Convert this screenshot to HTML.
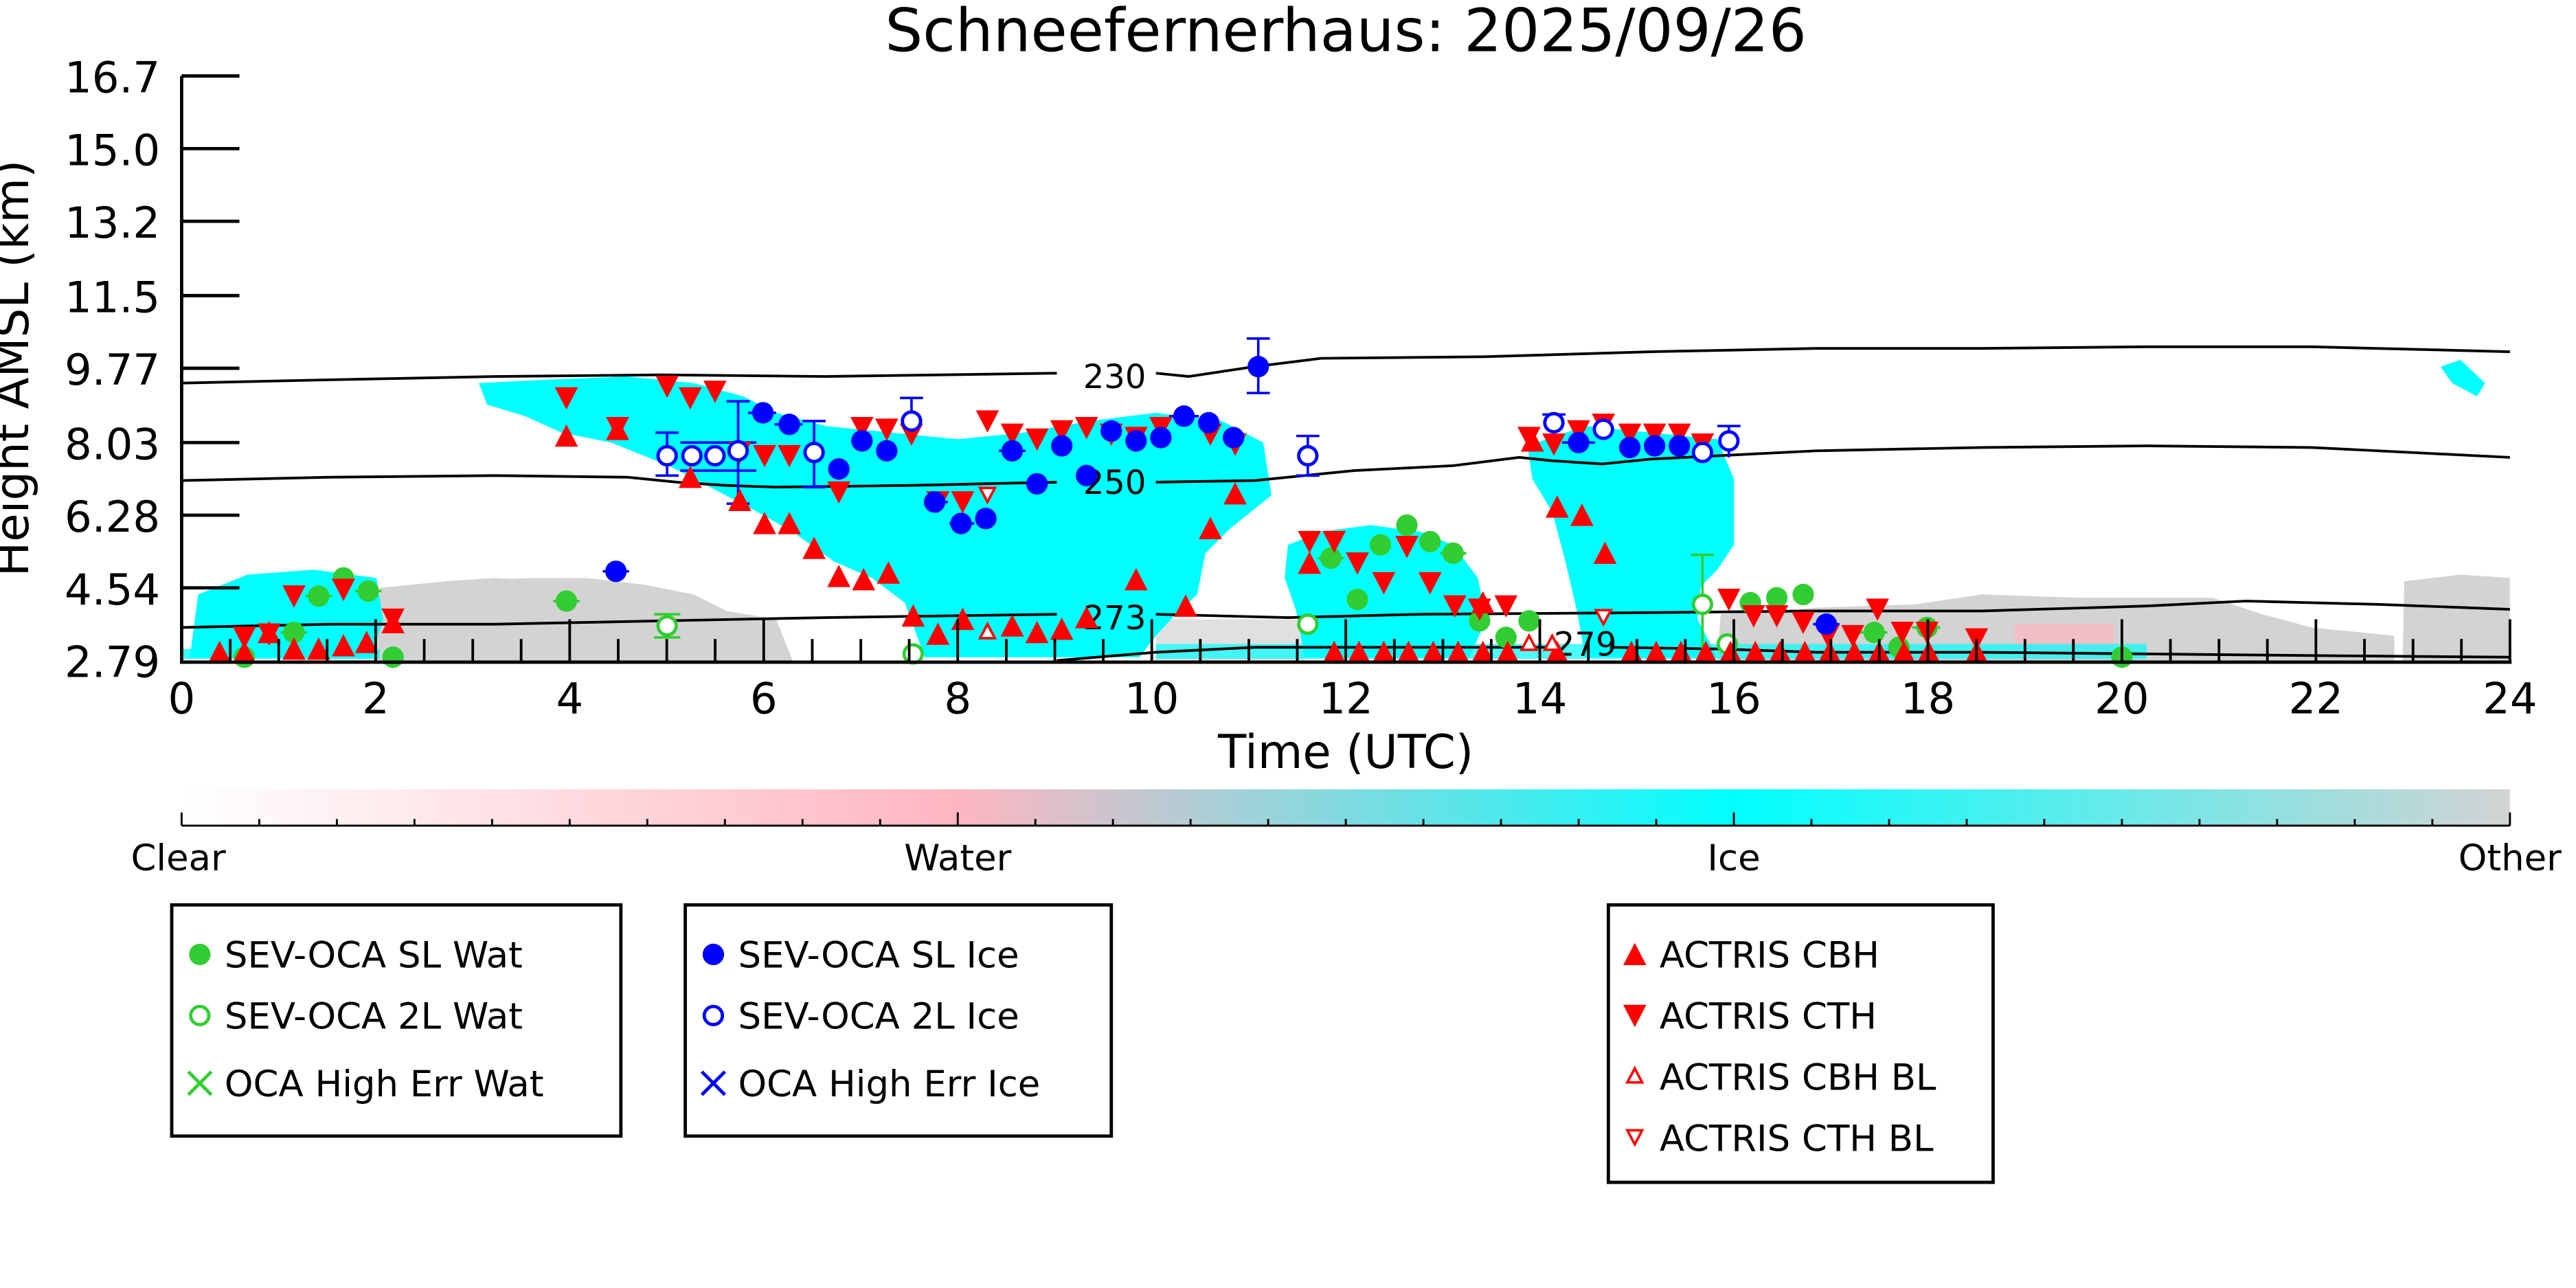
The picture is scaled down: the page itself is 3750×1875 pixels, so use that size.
<!DOCTYPE html>
<html><head><meta charset="utf-8"><style>
html,body{margin:0;padding:0;background:#fff;}
svg{display:block;}
text{font-family:"DejaVu Sans","Liberation Sans",sans-serif;fill:#000;}
</style></head><body>
<svg width="3750" height="1875" viewBox="0 0 1560 780" xmlns="http://www.w3.org/2000/svg">
<defs>
<linearGradient id="cb" x1="0" x2="1" y1="0" y2="0">
<stop offset="0" stop-color="#ffffff"/>
<stop offset="0.333" stop-color="#ffb6c1"/>
<stop offset="0.667" stop-color="#00ffff"/>
<stop offset="1" stop-color="#d3d3d3"/>
</linearGradient>
<symbol id="gf" overflow="visible"><circle r="6.5" fill="#32cd32"/></symbol>
<symbol id="go" overflow="visible"><circle r="5.5" fill="#fff" stroke="#32cd32" stroke-width="2"/></symbol>
<symbol id="bf" overflow="visible"><circle r="6.5" fill="#0000ff"/></symbol>
<symbol id="bo" overflow="visible"><circle r="5.5" fill="#fff" stroke="#0000ff" stroke-width="2"/></symbol>
<symbol id="ru" overflow="visible"><polygon points="0,-8 7,5.5 -7,5.5" fill="#ff0000"/></symbol>
<symbol id="rd" overflow="visible"><polygon points="0,8 7,-5.5 -7,-5.5" fill="#ff0000"/></symbol>
<symbol id="rou" overflow="visible"><polygon points="0,-5 4.5,3.5 -4.5,3.5" fill="#fff" stroke="#ff0000" stroke-width="1.5"/></symbol>
<symbol id="rod" overflow="visible"><polygon points="0,5 4.5,-3.5 -4.5,-3.5" fill="#fff" stroke="#ff0000" stroke-width="1.5"/></symbol>
<clipPath id="pc"><rect x="110" y="46" width="1410" height="354"/></clipPath>
</defs>

<text x="815" y="31" font-size="36" text-anchor="middle">Schneefernerhaus: 2025/09/26</text>

<g clip-path="url(#pc)">
<g fill="#d3d3d3">
<polygon points="228,400 230,356 270,352 300,350 330,352 345,360 350,400"/>
<polygon points="288,400 290,352 320,350 355,350 390,354 420,360 440,370 470,375 480,400"/>
<rect x="180" y="360" width="50" height="40" opacity="0.6"/>
<polygon points="1040,400 1042,372 1100,368 1160,366 1200,360 1260,362 1300,362 1340,362 1370,372 1400,380 1450,385 1450,400"/>
<polygon points="1455,400 1456,352 1490,348 1520,350 1520,400"/>
<rect x="700" y="375" width="90" height="25" opacity="0.7"/>
</g>
<g fill="#ffb6c1" opacity="0.7">
<rect x="1220" y="378" width="60" height="20"/>
<rect x="130" y="370" width="20" height="25"/>
</g>
<g fill="#00ffff">
<polygon points="290,232 330,230 380,228 420,232 450,240 470,250 500,258 540,262 580,266 620,262 660,255 700,250 740,255 765,268 770,300 745,320 730,335 725,360 712,372 700,385 690,398 560,398 548,365 528,350 505,340 480,322 455,308 430,295 405,282 370,268 340,262 318,252 295,245"/>
<polygon points="780,330 800,322 830,318 860,322 880,330 895,350 900,375 890,398 790,398 785,370 778,350"/>
<polygon points="925,270 960,258 1000,262 1040,266 1050,290 1050,330 1040,345 1030,355 1028,375 1040,398 960,398 955,370 948,340 940,310 928,290"/>
<polygon points="115,398 120,360 150,348 190,345 228,350 232,375 225,398"/>
<polygon points="1478,222 1490,218 1505,232 1500,240 1485,232"/>
<rect x="700" y="390" width="600" height="9" opacity="0.7"/>
<rect x="110" y="393" width="120" height="6" opacity="0.8"/>
</g>
</g>

<g fill="none" stroke="#000" stroke-width="1.6">
<polyline points="110,232 200,230 300,228 400,227 500,228 640,226"/>
<polyline points="700,226 720,228 760,222 800,217 900,216 1000,213 1100,211 1200,211 1300,210 1400,210 1520,213"/>
<polyline points="110,291 200,289 300,288 380,289 410,292 440,294 470,295 550,294 640,292"/>
<polyline points="700,292 760,291 820,285 880,282 920,277 940,279 970,281 1000,278 1100,273 1200,271 1300,270 1400,271 1520,277"/>
<polyline points="110,380 200,378 300,378 400,376 500,374 640,372"/>
<polyline points="700,372 780,374 860,372 1000,371 1100,370 1200,370 1300,367 1360,364 1440,366 1520,369"/>
<polyline points="640,400 700,395 760,392 860,392 945,392"/>
<polyline points="975,392 1040,393 1100,395 1200,395 1300,396 1400,397 1520,398"/>
</g>
<g font-size="20">
<text x="675" y="235" text-anchor="middle">230</text>
<text x="675" y="299" text-anchor="middle">250</text>
<text x="675" y="381" text-anchor="middle">273</text>
<text x="960" y="397" text-anchor="middle">279</text>
</g>

<g stroke="#0000ff" stroke-width="1.5" fill="none">
<path d="M762,205 V238 M755,205 H769 M755,238 H769"/>
<path d="M447,243 V305 M440,243 H454 M440,305 H454"/>
<path d="M404,262 V288 M397,262 H411 M397,288 H411"/>
<path d="M552,241 V268 M545,241 H559"/>
<path d="M493,255 V295 M486,295 H500 M486,255 H500"/>
<path d="M792,264 V288 M785,264 H799 M785,288 H799"/>
<path d="M1047,258 V277 M1040,258 H1054"/>
<path d="M941,251 V262 M934,251 H948"/>
<path d="M412,268 H458 M412,285 H458"/>
<path d="M365,346 H381 M453,250 H470 M469,257 H486 M560,304 H574 M575,317 H590 M605,273 H621 M708,252 H726 M946,268 H966 M1098,378 H1114"/>
</g>
<g stroke="#32cd32" stroke-width="1.5" fill="none">
<path d="M1031,336 V398 M1024,336 H1038"/>
<path d="M396,372 H412 M396,386 H412"/>
<path d="M335,364 H351 M170,383 H186 M185,361 H201 M215,358 H231 M798,338 H814 M872,335 H888 M1125,383 H1143 M1158,380 H1175"/>
</g>

<g>
<use href="#gf" x="148" y="398"/><use href="#gf" x="178" y="383"/><use href="#gf" x="193" y="361"/><use href="#gf" x="208" y="350"/><use href="#gf" x="223" y="358"/><use href="#gf" x="238" y="398"/><use href="#gf" x="343" y="364"/>
<use href="#gf" x="806" y="338"/><use href="#gf" x="822" y="363"/><use href="#gf" x="836" y="330"/><use href="#gf" x="852" y="318"/><use href="#gf" x="866" y="328"/><use href="#gf" x="880" y="335"/><use href="#gf" x="896" y="376"/><use href="#gf" x="912" y="386"/><use href="#gf" x="926" y="376"/><use href="#gf" x="1060" y="365"/><use href="#gf" x="1076" y="362"/><use href="#gf" x="1092" y="360"/><use href="#gf" x="1135" y="383"/><use href="#gf" x="1150" y="392"/><use href="#gf" x="1167" y="380"/><use href="#gf" x="1285" y="398"/>
<use href="#go" x="404" y="379"/><use href="#go" x="792" y="378"/><use href="#go" x="1031" y="366"/><use href="#go" x="553" y="396"/><use href="#go" x="1046" y="390"/>

<use href="#ru" x="343" y="265"/><use href="#ru" x="374" y="261"/><use href="#ru" x="418" y="290"/><use href="#ru" x="448" y="304"/><use href="#ru" x="463" y="318"/><use href="#ru" x="478" y="318"/><use href="#ru" x="493" y="333"/><use href="#ru" x="508" y="350"/><use href="#ru" x="523" y="352"/><use href="#ru" x="538" y="348"/><use href="#ru" x="553" y="374"/><use href="#ru" x="568" y="385"/><use href="#ru" x="583" y="376"/><use href="#ru" x="613" y="380"/><use href="#ru" x="628" y="384"/><use href="#ru" x="643" y="382"/><use href="#ru" x="658" y="375"/><use href="#ru" x="688" y="352"/><use href="#ru" x="718" y="368"/><use href="#ru" x="733" y="321"/><use href="#ru" x="748" y="300"/><use href="#ru" x="793" y="342"/><use href="#ru" x="898" y="366"/><use href="#ru" x="928" y="268"/><use href="#ru" x="943" y="308"/><use href="#ru" x="958" y="313"/><use href="#ru" x="972" y="336"/>
<use href="#ru" x="133" y="396"/><use href="#ru" x="163" y="384"/><use href="#ru" x="178" y="394"/><use href="#ru" x="193" y="394"/><use href="#ru" x="208" y="392"/><use href="#ru" x="222" y="390"/><use href="#ru" x="238" y="378"/><use href="#ru" x="148" y="396"/>
<use href="#ru" x="808" y="396"/><use href="#ru" x="823" y="396"/><use href="#ru" x="838" y="396"/><use href="#ru" x="853" y="396"/><use href="#ru" x="868" y="396"/><use href="#ru" x="883" y="396"/><use href="#ru" x="898" y="396"/><use href="#ru" x="913" y="396"/><use href="#ru" x="943" y="396"/><use href="#ru" x="988" y="396"/><use href="#ru" x="1003" y="396"/><use href="#ru" x="1018" y="396"/><use href="#ru" x="1033" y="396"/><use href="#ru" x="1048" y="396"/><use href="#ru" x="1063" y="396"/><use href="#ru" x="1078" y="396"/><use href="#ru" x="1093" y="396"/><use href="#ru" x="1108" y="396"/><use href="#ru" x="1123" y="396"/><use href="#ru" x="1138" y="396"/><use href="#ru" x="1153" y="396"/><use href="#ru" x="1168" y="396"/><use href="#ru" x="1197" y="396"/>

<use href="#rd" x="343" y="240"/><use href="#rd" x="374" y="258"/><use href="#rd" x="404" y="233"/><use href="#rd" x="418" y="240"/><use href="#rd" x="433" y="236"/><use href="#rd" x="448" y="273"/><use href="#rd" x="463" y="275"/><use href="#rd" x="478" y="275"/><use href="#rd" x="508" y="297"/><use href="#rd" x="522" y="258"/><use href="#rd" x="537" y="259"/><use href="#rd" x="552" y="262"/><use href="#rd" x="568" y="303"/><use href="#rd" x="583" y="303"/><use href="#rd" x="598" y="254"/><use href="#rd" x="613" y="262"/><use href="#rd" x="628" y="265"/><use href="#rd" x="643" y="260"/><use href="#rd" x="658" y="258"/><use href="#rd" x="673" y="262"/><use href="#rd" x="688" y="264"/><use href="#rd" x="703" y="258"/><use href="#rd" x="733" y="262"/><use href="#rd" x="748" y="268"/>
<use href="#rd" x="793" y="327"/><use href="#rd" x="808" y="327"/><use href="#rd" x="822" y="340"/><use href="#rd" x="838" y="352"/><use href="#rd" x="852" y="330"/><use href="#rd" x="866" y="352"/><use href="#rd" x="881" y="366"/><use href="#rd" x="896" y="368"/><use href="#rd" x="912" y="366"/><use href="#rd" x="926" y="264"/><use href="#rd" x="941" y="268"/><use href="#rd" x="956" y="260"/><use href="#rd" x="971" y="256"/><use href="#rd" x="987" y="262"/><use href="#rd" x="1002" y="262"/><use href="#rd" x="1017" y="262"/><use href="#rd" x="1031" y="268"/><use href="#rd" x="1047" y="362"/><use href="#rd" x="1062" y="372"/><use href="#rd" x="1076" y="372"/><use href="#rd" x="1092" y="376"/><use href="#rd" x="1107" y="384"/><use href="#rd" x="1122" y="384"/><use href="#rd" x="1137" y="368"/><use href="#rd" x="1152" y="382"/><use href="#rd" x="1167" y="382"/><use href="#rd" x="1197" y="386"/>
<use href="#rd" x="178" y="360"/><use href="#rd" x="208" y="356"/><use href="#rd" x="238" y="374"/><use href="#rd" x="163" y="383"/><use href="#rd" x="148" y="385"/>
<use href="#rod" x="598" y="299"/><use href="#rod" x="971" y="373"/><use href="#rou" x="598" y="383"/><use href="#rou" x="926" y="390"/><use href="#rou" x="940" y="390"/>

<use href="#bf" x="373" y="346"/><use href="#bf" x="462" y="250"/><use href="#bf" x="478" y="257"/><use href="#bf" x="508" y="284"/><use href="#bf" x="522" y="267"/><use href="#bf" x="537" y="273"/><use href="#bf" x="566" y="304"/><use href="#bf" x="582" y="317"/><use href="#bf" x="597" y="314"/><use href="#bf" x="613" y="273"/><use href="#bf" x="628" y="293"/><use href="#bf" x="643" y="270"/><use href="#bf" x="658" y="288"/><use href="#bf" x="673" y="261"/><use href="#bf" x="688" y="267"/><use href="#bf" x="703" y="265"/><use href="#bf" x="717" y="252"/><use href="#bf" x="732" y="256"/><use href="#bf" x="747" y="265"/><use href="#bf" x="762" y="222"/><use href="#bf" x="956" y="268"/><use href="#bf" x="987" y="271"/><use href="#bf" x="1002" y="270"/><use href="#bf" x="1017" y="270"/><use href="#bf" x="1106" y="378"/>
<use href="#bo" x="404" y="276"/><use href="#bo" x="419" y="276"/><use href="#bo" x="433" y="276"/><use href="#bo" x="447" y="273"/><use href="#bo" x="493" y="274"/><use href="#bo" x="552" y="255"/><use href="#bo" x="792" y="276"/><use href="#bo" x="941" y="256"/><use href="#bo" x="971" y="260"/><use href="#bo" x="1031" y="274"/><use href="#bo" x="1047" y="267"/>
</g>

<g stroke="#000" stroke-width="2" fill="none">
<path d="M110,46 V401 H1521"/>
<path d="M110,46 H145 M110,90 H145 M110,134 H145 M110,179 H145 M110,223 H145 M110,268 H145 M110,312 H145 M110,356 H145"/>
</g>
<g stroke="#000" stroke-width="1.6">
<path d="M227.5,400 V375 M345,400 V375 M462.5,400 V375 M580,400 V375 M697.5,400 V375 M815,400 V375 M932.5,400 V375 M1050,400 V375 M1167.5,400 V375 M1285,400 V375 M1402.5,400 V375 M1520,400 V375"/>
<path d="M139.4,400 V387 M168.8,400 V387 M198.1,400 V387 M256.9,400 V387 M286.3,400 V387 M315.6,400 V387 M374.4,400 V387 M403.8,400 V387 M433.1,400 V387 M491.9,400 V387 M521.3,400 V387 M550.6,400 V387 M609.4,400 V387 M638.8,400 V387 M668.1,400 V387 M726.9,400 V387 M756.3,400 V387 M785.6,400 V387 M844.4,400 V387 M873.8,400 V387 M903.1,400 V387 M961.9,400 V387 M991.3,400 V387 M1020.6,400 V387 M1079.4,400 V387 M1108.8,400 V387 M1138.1,400 V387 M1196.9,400 V387 M1226.3,400 V387 M1255.6,400 V387 M1314.4,400 V387 M1343.8,400 V387 M1373.1,400 V387 M1431.9,400 V387 M1461.3,400 V387 M1490.6,400 V387"/>
</g>
<g font-size="26" text-anchor="end">
<text x="97" y="56">16.7</text><text x="97" y="100">15.0</text><text x="97" y="144">13.2</text><text x="97" y="189">11.5</text><text x="97" y="233">9.77</text><text x="97" y="278">8.03</text><text x="97" y="322">6.28</text><text x="97" y="366">4.54</text><text x="97" y="410">2.79</text>
</g>
<g font-size="26" text-anchor="middle">
<text x="110" y="432">0</text><text x="227.5" y="432">2</text><text x="345" y="432">4</text><text x="462.5" y="432">6</text><text x="580" y="432">8</text><text x="697.5" y="432">10</text><text x="815" y="432">12</text><text x="932.5" y="432">14</text><text x="1050" y="432">16</text><text x="1167.5" y="432">18</text><text x="1285" y="432">20</text><text x="1402.5" y="432">22</text><text x="1520" y="432">24</text>
</g>
<text x="815" y="465" font-size="28" text-anchor="middle">Time (UTC)</text>
<text transform="translate(17,223) rotate(-90)" font-size="28" text-anchor="middle">Height AMSL (km)</text>

<rect x="110" y="478" width="1410" height="22" fill="url(#cb)"/>
<g stroke="#000" stroke-width="1.2">
<path d="M110,500 H1520"/>
<path d="M157,500 V496 M204,500 V496 M251,500 V496 M298,500 V496 M345,500 V496 M392,500 V496 M439,500 V496 M486,500 V496 M533,500 V496 M627,500 V496 M674,500 V496 M721,500 V496 M768,500 V496 M815,500 V496 M862,500 V496 M909,500 V496 M956,500 V496 M1003,500 V496 M1097,500 V496 M1144,500 V496 M1191,500 V496 M1238,500 V496 M1285,500 V496 M1332,500 V496 M1379,500 V496 M1426,500 V496 M1473,500 V496"/>
<path d="M110,500 V492 M580,500 V492 M1050,500 V492 M1520,500 V492"/>
</g>
<g font-size="22" text-anchor="middle">
<text x="108" y="527">Clear</text><text x="580" y="527">Water</text><text x="1050" y="527">Ice</text><text x="1520" y="527">Other</text>
</g>

<g fill="#fff" stroke="#000" stroke-width="2">
<rect x="104" y="548" width="272" height="140"/>
<rect x="415" y="548" width="258" height="140"/>
<rect x="974" y="548" width="233" height="168"/>
</g>
<g font-size="22">
<use href="#gf" x="121" y="578"/><text x="136" y="586">SEV-OCA SL Wat</text>
<use href="#go" x="121" y="615"/><text x="136" y="623">SEV-OCA 2L Wat</text>
<path d="M114,649 L128,663 M128,649 L114,663" stroke="#32cd32" stroke-width="2"/><text x="136" y="664">OCA High Err Wat</text>
<use href="#bf" x="432" y="578"/><text x="447" y="586">SEV-OCA SL Ice</text>
<use href="#bo" x="432" y="615"/><text x="447" y="623">SEV-OCA 2L Ice</text>
<path d="M425,649 L439,663 M439,649 L425,663" stroke="#0000ff" stroke-width="2"/><text x="447" y="664">OCA High Err Ice</text>
<use href="#ru" x="990" y="579"/><text x="1005" y="586">ACTRIS CBH</text>
<use href="#rd" x="990" y="614"/><text x="1005" y="623">ACTRIS CTH</text>
<use href="#rou" x="990" y="652"/><text x="1005" y="660">ACTRIS CBH BL</text>
<use href="#rod" x="990" y="688"/><text x="1005" y="697">ACTRIS CTH BL</text>
</g>
</svg>
</body></html>
